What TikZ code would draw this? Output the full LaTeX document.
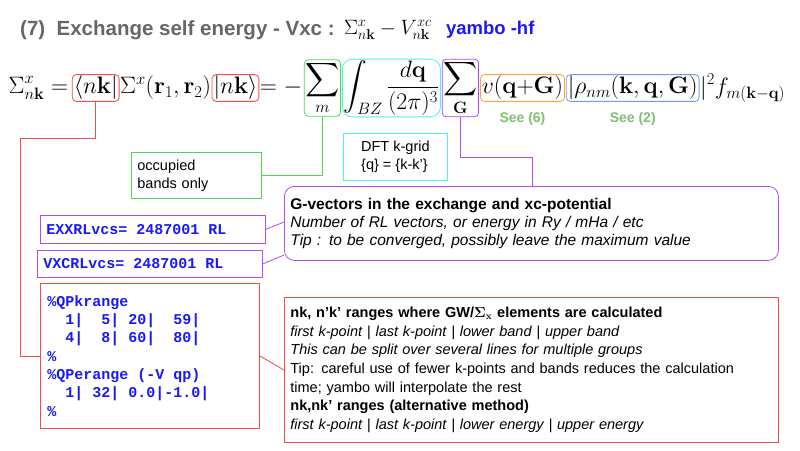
\documentclass[tikz,border=0pt]{standalone}
\usepackage{amsmath}
\usepackage{graphicx}
\usepackage[no-math]{fontspec}
\setmainfont{Liberation Sans}
\setmonofont{Liberation Mono}
\usetikzlibrary{positioning}
\definecolor{titlegray}{rgb}{0.40,0.40,0.40}
\definecolor{boxred}{rgb}{0.95,0.30,0.30}
\definecolor{boxgreen}{rgb}{0.30,0.85,0.30}
\definecolor{boxcyan}{rgb}{0.30,0.95,0.95}
\definecolor{boxpurple}{rgb}{0.70,0.30,0.95}
\definecolor{boxorange}{rgb}{0.98,0.65,0.25}
\definecolor{boxblue}{rgb}{0.45,0.60,0.95}
\definecolor{seegreen}{rgb}{0.50,0.75,0.45}
\definecolor{codeblue}{rgb}{0.10,0.10,0.95}
\newcommand{\bigf}{\fontsize{23.5}{28}\selectfont}
\newcommand{\fm}[1]{\scalebox{0.955}{$\displaystyle #1$}}
\newcommand{\csp}{\hspace*{0.6em}}
\begin{document}
\begin{tikzpicture}[x=1pt, y=-1pt,
    eq/.style={inner sep=0.5pt, font=\bigf},
    eqbox/.style={eq, draw, rounded corners=4pt, line width=0.8pt, inner sep=1.5pt},
    note/.style={draw, line width=0.8pt, align=left, font=\fontsize{14.5}{18}\selectfont, inner sep=6pt},
    code/.style={note, font=\ttfamily\bfseries\fontsize{15}{18.3}\selectfont, text=codeblue},
    link/.style={line width=0.8pt}]
    \useasboundingbox (0,0) rectangle (800,450);
    % title
    \node[anchor=west, inner sep=0pt, text=titlegray, font=\bfseries\fontsize{20.5}{22}\selectfont] (title) at (20,30) {(7)\ \ Exchange self energy - Vxc :};
    \node[anchor=west, inner sep=0pt, font=\fontsize{21}{22}\selectfont] (tmath) at ([xshift=9pt]title.east) {$\Sigma^x_{n\mathbf{k}} - V^{xc}_{n\mathbf{k}}$};
    \node[anchor=west, inner sep=0pt, text=codeblue, font=\bfseries\fontsize{18.5}{22}\selectfont] (hf) at ([xshift=14pt]tmath.east) {yambo -hf};
    % formula
    \node[eq, anchor=west] (lhs) at (8,88) {\fm{\Sigma^x_{n\mathbf{k}} =}};
    \node[eqbox, draw=boxred, anchor=west] (bra) at ([xshift=3pt]lhs.east) {\fm{\langle n\mathbf{k}|}};
    \node[eq, anchor=west] (sig) at (bra.east) {\fm{\Sigma^x(\mathbf{r}_1,\mathbf{r}_2)}};
    \node[eqbox, draw=boxred, anchor=west] (ket) at (sig.east) {\fm{|n\mathbf{k}\rangle}};
    \node[eq, anchor=west] (eqm) at (ket.east) {\fm{= -}};
    \node[eqbox, draw=boxgreen, anchor=west, inner sep=1pt] (summ) at ([xshift=1pt]eqm.east) {\fm{\sum_m}};
    \node[eqbox, draw=boxcyan, anchor=west, rounded corners=10pt] (intq) at ([xshift=1pt]summ.east) {\fm{\int_{BZ}\frac{d\mathbf{q}}{(2\pi)^3}}};
    \node[eqbox, draw=boxpurple, anchor=west, inner sep=1pt] (sumg) at ([xshift=1pt]intq.east) {\fm{\sum_{\mathbf{G}}}};
    \node[eqbox, draw=boxorange, anchor=west] (vq) at ([xshift=1pt]sumg.east) {\fm{v(\mathbf{q}{+}\mathbf{G})}};
    \node[eqbox, draw=boxblue, anchor=west] (rho) at ([xshift=1pt]vq.east) {\fm{|\rho_{nm}(\mathbf{k},\mathbf{q},\mathbf{G})}};
    \node[eq, anchor=west] (rest) at (rho.east) {\fm{|^2 f_{m(\mathbf{k}-\mathbf{q})}}};
    \node[text=seegreen, font=\bfseries\fontsize{14}{16}\selectfont] (see6) at (vq.south |- 0,119) {See (6)};
    \node[text=seegreen, font=\bfseries\fontsize{14}{16}\selectfont] (see2) at (rho.south |- 0,119) {See (2)};
    % notes
    \node[note, draw=boxcyan, anchor=north west, minimum width=104pt, minimum height=47pt] (kgrid) at (343,133) {DFT k-grid\\\{q\} = \{k-k'\}};
    \node[note, draw=boxgreen, anchor=north west, text width=118pt, minimum height=46pt] (occ) at (131,152) {occupied\\bands only};
    \node[note, draw=boxpurple, rounded corners=10pt, anchor=north west, text width=482pt, minimum height=74pt, inner sep=6pt, font=\fontsize{15.5}{18}\selectfont] (gvec) at (284,186) {\textbf{G-vectors in the exchange and xc-potential}\\\textit{Number of RL vectors, or energy in Ry / mHa / etc}\\\textit{Tip : to be converged, possibly leave the maximum value}};
    \node[code, draw=boxpurple, anchor=north west, text width=213pt, minimum height=28pt, inner sep=6pt] (exx) at (40,215) {EXXRLvcs=\csp2487001\csp{}RL};
    \node[code, draw=boxpurple, anchor=north west, text width=213pt, minimum height=27pt, inner sep=6pt] (vxc) at (37,250) {VXCRLvcs=\csp2487001\csp{}RL};
    \node[code, draw=boxred, anchor=north west, text width=205pt, minimum height=145pt, inner sep=7pt] (qp) at (40,283) {\%QPkrange\\
      \csp\csp1|\csp\csp5|\csp20|\csp\csp59|\\
      \csp\csp4|\csp\csp8|\csp60|\csp\csp80|\\
      \%\\
      \%QPerange\csp(-V\csp{}qp)\\
      \csp\csp1|\csp32|\csp0.0|-1.0|\\
      \%};
    \node[note, draw=boxred, anchor=north west, text width=482pt, minimum height=145pt, inner sep=6pt, font=\fontsize{14.5}{18.6}\selectfont] (ranges) at (284,297) {\textbf{nk, n'k' ranges where GW/$\boldsymbol{\Sigma}_{\mathbf{x}}$ elements are calculated}\\
      \textit{first k-point | last k-point | lower band | upper band}\\
      \textit{This can be split over several lines for multiple groups}\\
      Tip: careful use of fewer k-points and bands reduces the calculation\\
      time; yambo will interpolate the rest\\
      \textbf{nk,nk' ranges (alternative method)}\\
      \textit{first k-point | last k-point | lower energy | upper energy}};
    % connectors
    \draw[link, boxred] (bra.south) |- (20,138) |- (qp.west);
    \draw[link, boxgreen] (summ.south) |- (occ.east);
    \draw[link, boxpurple] (sumg.south) |- (532,157) -- (532,186);
    \draw[link, boxpurple] (exx.east) -- (gvec.west |- 0,222);
    \draw[link, boxpurple] (vxc.east) -- (gvec.west |- 0,255);
    \draw[link, boxred] (qp.east) -- (ranges.west |- 0,370);
\end{tikzpicture}
\end{document}
